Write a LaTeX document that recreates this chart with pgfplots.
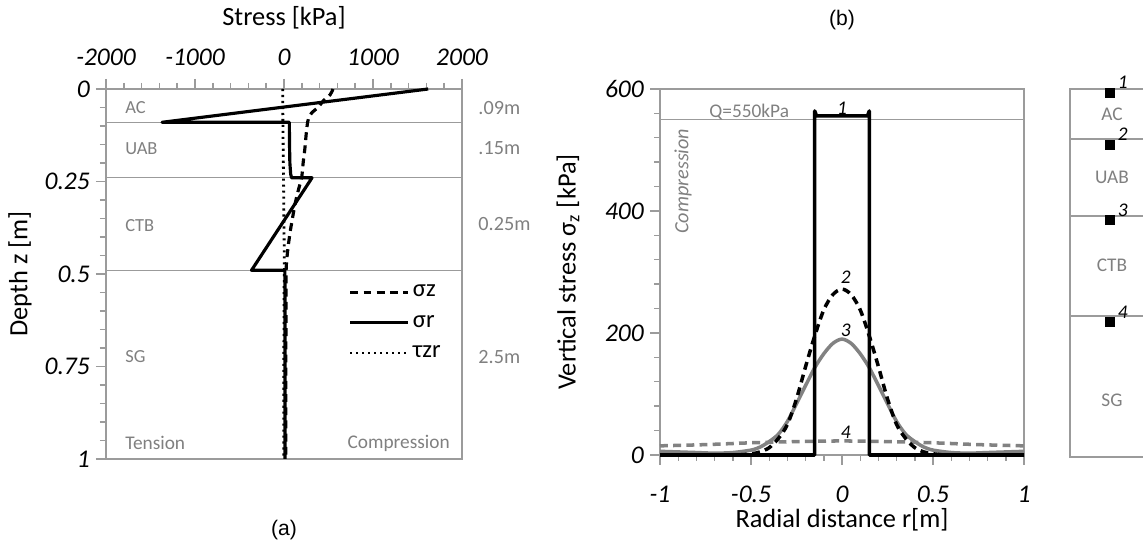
\documentclass[border=0pt]{standalone}
\usepackage{fontspec}
\setmainfont{Carlito}
\newfontfamily\arialfont{Liberation Sans}
\usepackage{pgfplots}
\pgfplotsset{compat=1.18}
\definecolor{axgray}{RGB}{155,155,155}
\definecolor{txtgray}{RGB}{128,128,128}
\definecolor{crvgray}{RGB}{130,130,130}

\pgfplotsset{
  basestyle/.style={
    scale only axis,
    axis line style={axgray, line width=0.8pt},
    tick style={axgray, line width=0.8pt},
    major tick length=0.2cm, minor tick length=0.12cm,
    tick label style={font=\fontsize{14.5}{17}\selectfont\itshape},
    /pgf/number format/assume math mode=true,
    /pgf/number format/1000 sep={},
    label style={font=\fontsize{15}{18}\selectfont},
    clip=false,
  },
}
\tikzset{graytxt/.style={text=txtgray, font=\fontsize{10.5}{12}\selectfont, inner sep=0pt}}

\begin{document}
\begin{tikzpicture}
\useasboundingbox (0,0) rectangle (22.86,10.92);

% (a) stresses along depth
\begin{axis}[basestyle,
  at={(2.12cm,1.74cm)}, anchor=south west,
  width=7.12cm, height=7.4cm,
  xmin=-2000, xmax=2000, ymin=0, ymax=1, y dir=reverse,
  xtick={-2000,-1000,0,1000,2000}, minor x tick num=4,
  ytick={0,0.25,0.5,0.75,1}, minor y tick num=4,
  xtick pos=upper, xticklabel pos=upper, ytick pos=lower,
  tick align=outside,
  xticklabel style={yshift=0.14cm},
  xlabel={Stress [kPa]}, ylabel={Depth z [m]},
  xlabel style={at={([yshift=1.42cm]axis description cs:0.5,1)}, anchor=center},
  ylabel style={at={([xshift=-1.72cm]axis description cs:0,0.5)}, anchor=center},
  legend style={at={(axis description cs:0.966,0.49)}, anchor=north east,
    draw=none, fill=none, font=\fontsize{14}{16}\selectfont, row sep=5pt},
  legend cell align=left,
  legend image code/.code={\draw[#1] (0cm,0cm) -- (1.15cm,0cm);},
]
\addplot[axgray, line width=0.8pt, forget plot] coordinates {(-2000,0.09)(2000,0.09)};
\addplot[axgray, line width=0.8pt, forget plot] coordinates {(-2000,0.24)(2000,0.24)};
\addplot[axgray, line width=0.8pt, forget plot] coordinates {(-2000,0.49)(2000,0.49)};

\addplot[black, line width=1.8pt, dash pattern=on 4.5pt off 3pt, smooth] coordinates {
  (550,0)(520,0.015)(450,0.03)(380,0.05)(310,0.065)(275,0.08)(265,0.09)
  (250,0.12)(235,0.16)(215,0.2)(198,0.24)(165,0.27)(125,0.31)(95,0.35)
  (67,0.39)(40,0.44)(24,0.49)(22,0.6)(21,0.8)(20,1)};
\addplot[black, line width=1.8pt, line join=round] coordinates {
  (1620,0)(-1370,0.09)(60,0.09)(62,0.15)(66,0.2)(75,0.23)(85,0.24)
  (315,0.24)(-365,0.49)(10,0.49)(12,0.7)(12,1)};
\addplot[black, line width=1.6pt, dash pattern=on 1.2pt off 2.2pt] coordinates {
  (-15,0)(-12,0.1)(-5,0.25)(5,0.49)(0,0.55)(-2,0.8)(-2,1)};
\legend{σz, σr, τzr}

\node[graytxt, anchor=west] at (axis cs:-1787,0.051) {AC};
\node[graytxt, anchor=west] at (axis cs:-1787,0.16) {UAB};
\node[graytxt, anchor=west] at (axis cs:-1787,0.368) {CTB};
\node[graytxt, anchor=west] at (axis cs:-1787,0.724) {SG};
\node[graytxt, anchor=west, font=\fontsize{11}{13}\selectfont] at (axis cs:-1787,0.957) {Tension};
\node[graytxt, anchor=east, font=\fontsize{11}{13}\selectfont] at (axis cs:1866,0.957) {Compression};
\node[graytxt, anchor=west, font=\fontsize{11.5}{13}\selectfont] at (axis cs:2181,0.051) {.09m};
\node[graytxt, anchor=west, font=\fontsize{11.5}{13}\selectfont] at (axis cs:2181,0.16) {.15m};
\node[graytxt, anchor=west, font=\fontsize{11.5}{13}\selectfont] at (axis cs:2181,0.365) {0.25m};
\node[graytxt, anchor=west, font=\fontsize{11.5}{13}\selectfont] at (axis cs:2181,0.724) {2.5m};
\node[font=\arialfont\fontsize{12}{14}\selectfont] at ([yshift=-1.42cm]axis description cs:0.5,0) {(a)};
\end{axis}

% (b) vertical stress along radius
\begin{axis}[basestyle,
  at={(13.2cm,1.82cm)}, anchor=south west,
  width=7.28cm, height=7.32cm,
  xmin=-1, xmax=1, ymin=0, ymax=600,
  xtick={-1,-0.5,0,0.5,1}, minor x tick num=4,
  ytick={0,200,400,600}, minor y tick num=4,
  xtick pos=lower, ytick pos=lower,
  tick align=outside,
  xticklabel style={yshift=-0.3cm},
  xlabel={Radial distance r[m]}, ylabel={Vertical stress σ\textsubscript{z} [kPa]},
  xlabel style={at={([yshift=-1.3cm]axis description cs:0.5,0)}, anchor=center},
  ylabel style={at={([xshift=-1.84cm]axis description cs:0,0.5)}, anchor=center},
]
\addplot[axgray, line width=0.8pt] coordinates {(-1,550)(1,550)};
\addplot[crvgray, line width=2pt, dash pattern=on 4.5pt off 3pt, smooth] coordinates {
  (-1,15)(-0.75,17)(-0.5,20)(-0.25,22)(0,23)(0.25,22)(0.5,20)(0.75,17)(1,15)};
\addplot[crvgray, line width=2pt, smooth] coordinates {
  (-1,6)(-0.9,5)(-0.8,4)(-0.7,3)(-0.6,4)(-0.5,8)(-0.45,13)(-0.4,22)(-0.35,34)
  (-0.3,55)(-0.25,84)(-0.2,114)(-0.15,143)(-0.1,166)(-0.05,183)(0,190)
  (0.05,183)(0.1,166)(0.15,143)(0.2,114)(0.25,84)(0.3,55)(0.35,34)(0.4,22)
  (0.45,13)(0.5,8)(0.6,4)(0.7,3)(0.8,4)(0.9,5)(1,6)};
\addplot[black, line width=2pt, dash pattern=on 4.5pt off 3pt, smooth] coordinates {
  (-1,0)(-0.6,0)(-0.5,2)(-0.45,5)(-0.4,12)(-0.35,27)(-0.3,50)(-0.25,92)
  (-0.2,145)(-0.15,195)(-0.1,238)(-0.05,263)(0,272)(0.05,263)(0.1,238)
  (0.15,195)(0.2,145)(0.25,92)(0.3,50)(0.35,27)(0.4,12)(0.45,5)(0.5,2)
  (0.6,0)(1,0)};
\addplot[black, line width=2pt, line join=round] coordinates {
  (-1,0)(-0.15,0)(-0.15,564)(-0.14,556)(0.14,556)(0.15,564)(0.15,0)(1,0)};

\node[font=\fontsize{11}{12}\selectfont\itshape, anchor=south, inner sep=1pt] at (axis cs:0,554) {1};
\node[font=\fontsize{11}{12}\selectfont\itshape] at (axis cs:0.02,292) {2};
\node[font=\fontsize{11}{12}\selectfont\itshape] at (axis cs:0.02,205) {3};
\node[font=\fontsize{11}{12}\selectfont\itshape] at (axis cs:0.02,38) {4};
\node[graytxt, font=\fontsize{11}{13}\selectfont] at (axis cs:-0.51,562) {Q=550kPa};
\node[graytxt, rotate=90, font=\fontsize{11.5}{13}\selectfont\itshape] at (axis cs:-0.874,449) {Compression};
\node[font=\arialfont\fontsize{12}{14}\selectfont] at ([yshift=1.38cm]axis description cs:0.5,1) {(b)};
\end{axis}

% layer sketch with the four points
\begin{axis}[
  at={(21.4cm,1.78cm)}, anchor=south west, scale only axis,
  width=1.6cm, height=7.36cm,
  xmin=0, xmax=1, ymin=0, ymax=368, y dir=reverse,
  hide axis, clip=false,
]
\draw[axgray, line width=0.8pt] (axis cs:1,0) -- (axis cs:0,0) -- (axis cs:0,368) -- (axis cs:1,368);
\addplot[axgray, line width=0.8pt] coordinates {(0,50)(1,50)};
\addplot[axgray, line width=0.8pt] coordinates {(0,127)(1,127)};
\addplot[axgray, line width=0.8pt] coordinates {(0,227)(1,227)};
\addplot[only marks, mark=square*, mark size=2.7pt, black] coordinates {
  (0.5,4)(0.5,56)(0.5,131)(0.5,233)};
\node[font=\fontsize{11}{12}\selectfont\itshape] at (axis cs:0.66,-7) {1};
\node[font=\fontsize{11}{12}\selectfont\itshape] at (axis cs:0.66,45) {2};
\node[font=\fontsize{11}{12}\selectfont\itshape] at (axis cs:0.66,121) {3};
\node[font=\fontsize{11}{12}\selectfont\itshape] at (axis cs:0.66,223) {4};
\node[graytxt, font=\fontsize{11}{13}\selectfont] at (axis cs:0.525,25) {AC};
\node[graytxt, font=\fontsize{11}{13}\selectfont] at (axis cs:0.525,88) {UAB};
\node[graytxt, font=\fontsize{11}{13}\selectfont] at (axis cs:0.525,176) {CTB};
\node[graytxt, font=\fontsize{11}{13}\selectfont] at (axis cs:0.525,311) {SG};
\end{axis}
\end{tikzpicture}
\end{document}
